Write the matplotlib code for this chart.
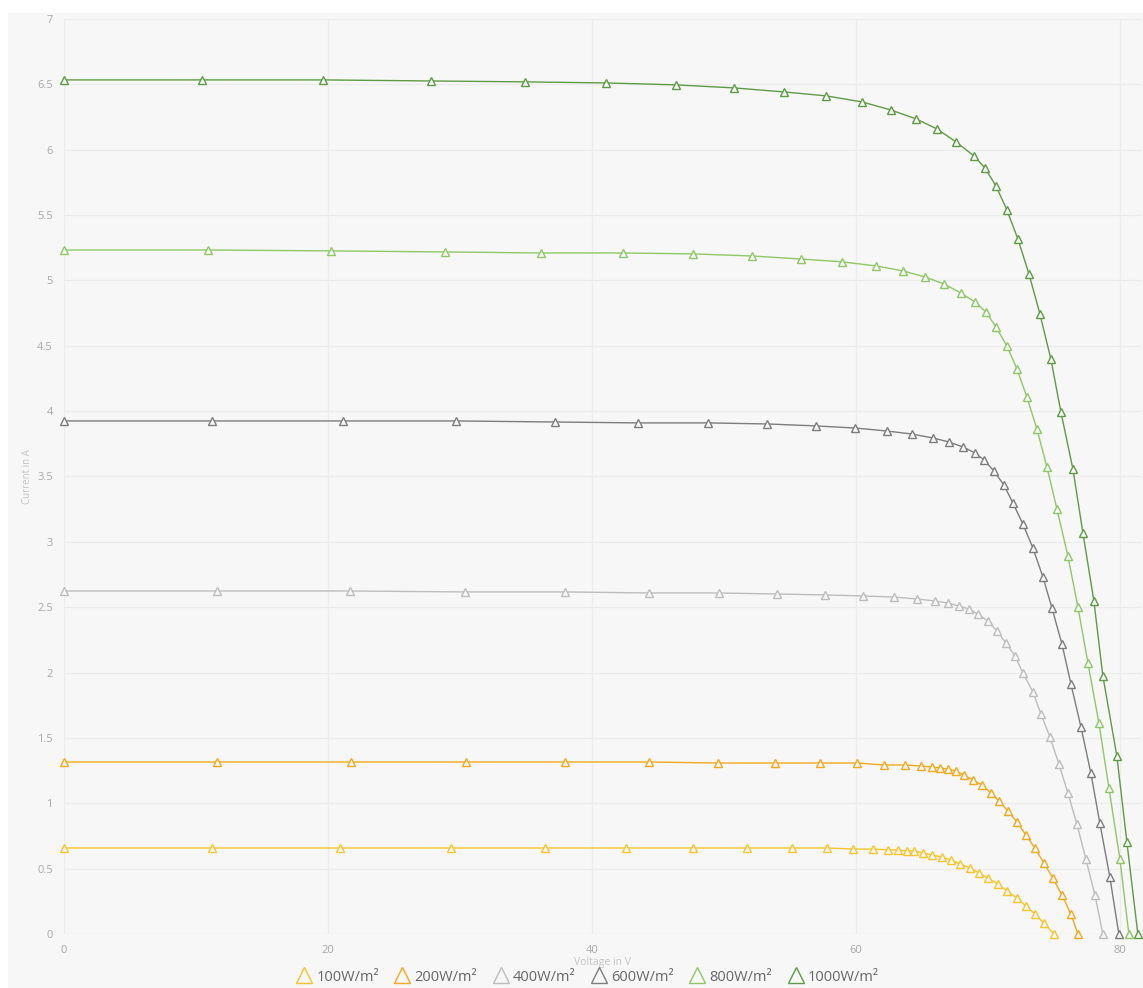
import matplotlib
matplotlib.use("Agg")
import matplotlib.pyplot as plt
from matplotlib.lines import Line2D
from matplotlib.patches import Rectangle

plt.rcParams['font.family'] = ['Open Sans', 'DejaVu Sans']

# I-V curves of a PV module at different irradiance levels
labels = ["100W/m²", "200W/m²", "400W/m²", "600W/m²", "800W/m²", "1000W/m²"]
colors = ["#f7c52a", "#f2a91c", "#bdbdbd", "#7d7d7d", "#8fc766", "#5e9b45"]

v_100 = [0, 11.21, 20.91, 29.32, 36.44, 42.58, 47.65, 51.74, 55.15, 57.80, 59.77,
         61.29, 62.42, 63.18, 63.86, 64.39, 65.08, 65.76, 66.52, 67.20, 67.88,
         68.64, 69.32, 70.00, 70.76, 71.44, 72.20, 72.88, 73.56, 74.24, 75.00]
i_100 = [0.658, 0.658, 0.658, 0.658, 0.658, 0.658, 0.658, 0.658, 0.658, 0.658, 0.650,
         0.650, 0.643, 0.643, 0.635, 0.635, 0.620, 0.604, 0.589, 0.566, 0.536,
         0.505, 0.467, 0.428, 0.383, 0.329, 0.275, 0.214, 0.153, 0.084, 0.0]

v_200 = [0, 11.59, 21.74, 30.45, 37.95, 44.32, 49.55, 53.86, 57.27, 60.08, 62.12,
         63.71, 64.92, 65.76, 66.36, 66.97, 67.58, 68.18, 68.86, 69.55, 70.23,
         70.83, 71.52, 72.20, 72.88, 73.56, 74.24, 74.92, 75.61, 76.29, 76.82]
i_200 = [1.316, 1.316, 1.316, 1.316, 1.316, 1.316, 1.308, 1.308, 1.308, 1.308, 1.293,
         1.293, 1.285, 1.278, 1.270, 1.262, 1.247, 1.217, 1.178, 1.140, 1.079,
         1.018, 0.941, 0.857, 0.757, 0.658, 0.543, 0.428, 0.298, 0.153, 0.0]

v_400 = [0, 11.59, 21.67, 30.38, 37.95, 44.32, 49.62, 54.02, 57.65, 60.53, 62.88,
         64.62, 65.98, 66.97, 67.80, 68.56, 69.24, 70.00, 70.68, 71.36, 72.05,
         72.65, 73.41, 74.02, 74.70, 75.38, 76.06, 76.74, 77.42, 78.11, 78.71]
i_400 = [2.624, 2.624, 2.624, 2.617, 2.617, 2.609, 2.609, 2.601, 2.594, 2.586, 2.578,
         2.563, 2.548, 2.532, 2.509, 2.486, 2.448, 2.395, 2.318, 2.227, 2.127,
         1.997, 1.852, 1.683, 1.507, 1.301, 1.079, 0.842, 0.574, 0.298, 0.0]

v_600 = [0, 11.21, 21.14, 29.70, 37.20, 43.48, 48.79, 53.26, 56.97, 59.92, 62.35,
         64.24, 65.83, 67.05, 68.11, 69.02, 69.70, 70.45, 71.21, 71.89, 72.65,
         73.41, 74.17, 74.85, 75.61, 76.29, 77.05, 77.80, 78.48, 79.24, 79.92]
i_600 = [3.925, 3.925, 3.925, 3.925, 3.917, 3.910, 3.910, 3.902, 3.887, 3.871, 3.848,
         3.825, 3.795, 3.764, 3.726, 3.680, 3.627, 3.543, 3.436, 3.298, 3.137,
         2.953, 2.731, 2.494, 2.219, 1.913, 1.584, 1.232, 0.849, 0.436, 0.0]

v_800 = [0, 10.91, 20.23, 28.86, 36.14, 42.35, 47.65, 52.12, 55.83, 58.94, 61.52,
         63.56, 65.23, 66.67, 67.95, 69.02, 69.85, 70.61, 71.44, 72.20, 72.95,
         73.71, 74.47, 75.23, 76.06, 76.82, 77.58, 78.41, 79.17, 80.00, 80.68]
i_800 = [5.233, 5.233, 5.226, 5.218, 5.210, 5.210, 5.203, 5.187, 5.164, 5.142, 5.111,
         5.073, 5.027, 4.973, 4.904, 4.835, 4.759, 4.644, 4.499, 4.323, 4.109,
         3.864, 3.573, 3.252, 2.892, 2.502, 2.073, 1.614, 1.117, 0.574, 0.0]

v_1000 = [0, 10.45, 19.62, 27.80, 34.92, 41.06, 46.36, 50.76, 54.55, 57.73, 60.45,
          62.65, 64.55, 66.14, 67.58, 68.94, 69.77, 70.61, 71.44, 72.27, 73.11,
          73.94, 74.77, 75.53, 76.44, 77.20, 78.03, 78.71, 79.77, 80.53, 81.36]
i_1000 = [6.534, 6.534, 6.534, 6.526, 6.519, 6.511, 6.496, 6.473, 6.442, 6.412, 6.366,
          6.304, 6.236, 6.159, 6.060, 5.953, 5.861, 5.723, 5.539, 5.318, 5.050,
          4.744, 4.399, 3.994, 3.558, 3.068, 2.548, 1.974, 1.362, 0.704, 0.0]

voltages = [v_100, v_200, v_400, v_600, v_800, v_1000]
currents = [i_100, i_200, i_400, i_600, i_800, i_1000]

x_ticks = [0, 20, 40, 60, 80]
y_ticks = [0, 0.5, 1, 1.5, 2, 2.5, 3, 3.5, 4, 4.5, 5, 5.5, 6, 6.5, 7]

bg = "#f7f7f7"
W, H = 1143, 988
fig = plt.figure(figsize=(W / 100, H / 100), dpi=100, facecolor="white")
fig.patches.append(Rectangle((8 / W, 0), 1, 975 / H, transform=fig.transFigure,
                             facecolor=bg, edgecolor="none", zorder=-10))

ax = fig.add_axes([64 / W, 54 / H, (1141 - 64) / W, (934 - 19) / H])
ax.set_facecolor(bg)

for v, i, c in zip(voltages, currents, colors):
    ax.plot(v, i, color=c, lw=1.0, marker="^", markersize=6.3, mfc=bg, mec=c,
            mew=1.0, clip_on=False, zorder=3)

ax.set_xlim(0, 81.6)
ax.set_ylim(0, 7)
ax.set_xticks(x_ticks)
ax.set_yticks(y_ticks)
ax.set_yticklabels([f"{t:g}" for t in y_ticks])
ax.tick_params(axis="both", length=0, labelsize=8, labelcolor="#a8a8a8")
ax.tick_params(axis="y", pad=8)
ax.tick_params(axis="x", pad=8)
ax.grid(True, color="#ececec", lw=0.9)
ax.set_axisbelow(True)
for s in ax.spines.values():
    s.set_visible(False)

ax.set_ylabel("Current in A", fontsize=7, color="#c4c4c4", va="center")
ax.yaxis.set_label_coords(-0.034, 0.5)
ax.set_xlabel("Voltage in V", fontsize=7.5, color="#c4c4c4", va="center")
ax.xaxis.set_label_coords(0.5, -0.031)

handles = [Line2D([], [], ls="none", marker="^", markersize=12, mfc="none",
                  mec=c, mew=1.0) for c in colors]
fig.legend(handles, labels, loc="center", bbox_to_anchor=(587 / W, 1 - 977 / H),
           ncol=6, frameon=False, fontsize=10.5, labelcolor="#666666",
           handletextpad=0.25, columnspacing=1.0, handlelength=1.2,
           borderpad=0.0)

fig.savefig("out.png", dpi=100, facecolor="white")
